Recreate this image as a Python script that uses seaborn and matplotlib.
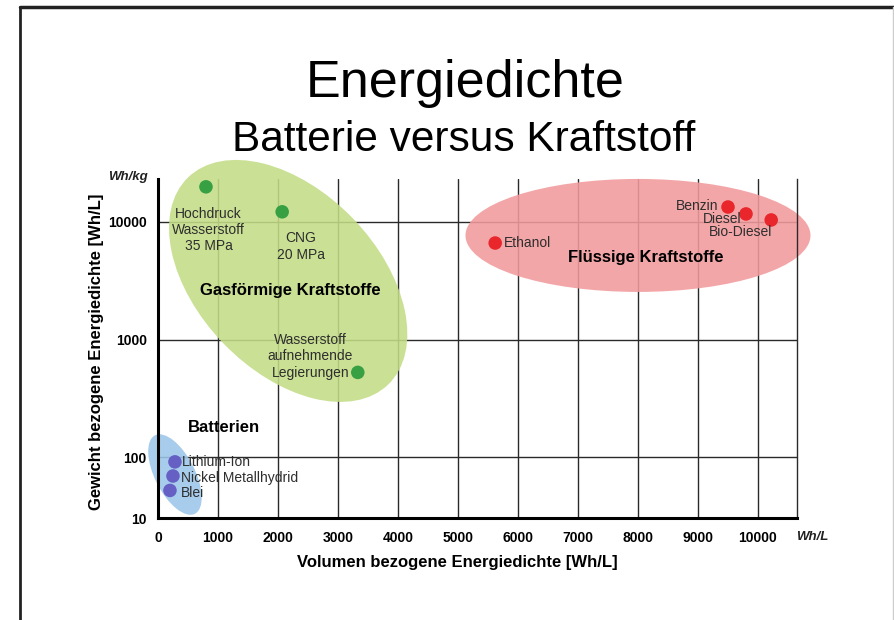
import matplotlib
matplotlib.use('Agg')
import matplotlib.pyplot as plt
import matplotlib.transforms as mtransforms
from matplotlib.patches import Ellipse
from matplotlib.lines import Line2D
import numpy as np
import pandas as pd
import seaborn as sns

# данные: объемная и весовая плотность энергии
names = ['Hochdruck\nWasserstoff\n35 MPa', 'CNG\n20 MPa', 'Wasserstoff\naufnehmende\nLegierungen',
         'Ethanol', 'Benzin', 'Diesel', 'Bio-Diesel',
         'Lithium-Ion', 'Nickel Metallhydrid', 'Blei']
groups = ['gas', 'gas', 'gas',
          'liquid', 'liquid', 'liquid', 'liquid',
          'battery', 'battery', 'battery']
wh_per_l = [800, 2070, 3330, 5620, 9500, 9800, 10220, 283, 250, 200]
wh_per_kg = [19900, 12200, 525, 6620, 13400, 11700, 10400, 91, 69, 52]

x_ticks = [0, 1000, 2000, 3000, 4000, 5000, 6000, 7000, 8000, 9000, 10000]
y_min, y_max = 30.3, 23200
y_ticks = [y_min, 100, 1000, 10000]
y_tick_labels = ['10', '100', '1000', '10000']

group_labels = ['Gasförmige Kraftstoffe', 'Flüssige Kraftstoffe', 'Batterien']
group_label_x = [2200, 8130, 500]
group_label_y = [2590, 4940, 177]

df = pd.DataFrame({'name': names, 'group': groups, 'vol': wh_per_l, 'grav': wh_per_kg})

sns.set_theme(style='white')
plt.rcParams['font.family'] = ['Liberation Sans', 'DejaVu Sans']

fig = plt.figure(figsize=(8.94, 6.20), dpi=100)
ax = fig.add_axes([0.1767, 0.1645, 0.7148, 0.5468])
ax.set_yscale('log')
ax.set_xlim(0, 10650)
ax.set_ylim(y_min, y_max)

# сетка
for xv in x_ticks[1:]:
    ax.axvline(xv, color='#2a2a2a', lw=1.0, zorder=1)
for yv in y_ticks[1:]:
    ax.axhline(yv, color='#2a2a2a', lw=1.0, zorder=1)

# области (эллипсы) в дюймах вокруг центра в координатах данных
regions = [
    # (cx, cy, width_in, height_in, angle, color)
    (2170, 3150, 2.88, 1.80, -46, '#c3dc86'),
    (8000, 7680, 3.45, 1.13, 0, '#f29a9c'),
    (283, 71, 0.88, 0.40, -63, '#9cc6ea'),
]
for cx, cy, w, h, ang, col in regions:
    tr = fig.dpi_scale_trans + mtransforms.ScaledTranslation(cx, cy, ax.transData)
    e = Ellipse((0, 0), w, h, angle=ang, transform=tr, facecolor=col,
                edgecolor='none', alpha=0.88, zorder=2, clip_on=False)
    ax.add_patch(e)

palette = {'gas': '#37a043', 'liquid': '#e8262b', 'battery': '#6660c4'}
sns.scatterplot(data=df, x='vol', y='grav', hue='group', palette=palette,
                s=95, edgecolor='none', legend=False, ax=ax, zorder=3)

# подписи точек (смещения в пунктах)
offsets = [(2, -31, 'center'), (13.5, -25, 'center'), (-34, 11.5, 'center'),
           (6, 0, 'left'), (-7, 0.5, 'right'), (-3, -3.5, 'right'), (0.5, -8.5, 'right'),
           (5, 0, 'left'), (6, -1.5, 'left'), (8, -2, 'left')]
for (nm, xv, yv), (dx, dy, ha) in zip(zip(names, wh_per_l, wh_per_kg), offsets):
    ax.annotate(nm, (xv, yv), xytext=(dx, dy), textcoords='offset points',
                ha=ha, va='center', fontsize=10, color='#2e2e2e',
                linespacing=1.2, zorder=4)

for lab, gx, gy in zip(group_labels, group_label_x, group_label_y):
    ax.text(gx, gy, lab, ha='center' if lab != 'Batterien' else 'left', va='center',
            fontsize=12, fontweight='bold', color='black', zorder=4)

ax.set_xticks(x_ticks)
ax.set_xticklabels([str(v) for v in x_ticks])
ax.set_yticks(y_ticks)
ax.set_yticklabels(y_tick_labels)
ax.yaxis.set_minor_locator(matplotlib.ticker.NullLocator())
ax.tick_params(axis='both', length=0, labelsize=10, colors='black')
ax.tick_params(axis='x', pad=9.5)
ax.tick_params(axis='y', pad=8)
for lbl in ax.get_xticklabels() + ax.get_yticklabels():
    lbl.set_fontweight('bold')

for side in ['left', 'bottom']:
    ax.spines[side].set_color('black')
    ax.spines[side].set_linewidth(2.2)
    ax.spines[side].set_zorder(5)
ax.spines['top'].set_visible(False)
ax.spines['right'].set_color('#2a2a2a')
ax.spines['right'].set_linewidth(1.0)

ax.set_xlabel('Volumen bezogene Energiedichte [Wh/L]', fontsize=12, fontweight='bold', color='black')
ax.set_ylabel('Gewicht bezogene Energiedichte [Wh/L]', fontsize=12, fontweight='bold', color='black')
ax.xaxis.set_label_coords(0.468, -0.11)
ax.yaxis.set_label_coords(-0.084, 0.49)

ax.text(-0.047, 1.006, 'Wh/kg', transform=ax.transAxes, ha='center', va='center',
        fontsize=9.5, fontweight='bold', style='italic', color='#222222')
ax.text(0.998, -0.056, 'Wh/L', transform=ax.transAxes, ha='left', va='center',
        fontsize=9.5, fontweight='bold', style='italic', color='#222222')

# заголовки
fig.text(0.520, 0.866, 'Energiedichte', ha='center', va='center', fontsize=37.5, color='black')
fig.text(0.519, 0.774, 'Batterie versus Kraftstoff', ha='center', va='center', fontsize=30.5, color='black')

# рамка слайда
fig.add_artist(Line2D([0.0224, 0.0224], [0.0, 0.9887], transform=fig.transFigure, color='#222222', lw=2))
fig.add_artist(Line2D([0.0224, 1.0], [0.9887, 0.9887], transform=fig.transFigure, color='#222222', lw=2.5))
fig.add_artist(Line2D([0.9985, 0.9985], [0.0, 0.9887], transform=fig.transFigure, color='#cccccc', lw=1))

plt.savefig('out.png', dpi=100)
plt.close()
